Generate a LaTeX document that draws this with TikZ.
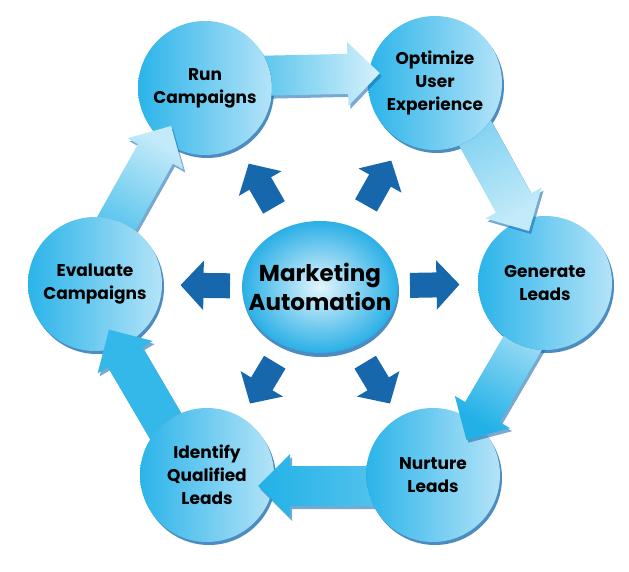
\documentclass[tikz,border=0pt]{standalone}
\usepackage{fontspec}
\newfontfamily\labelfont{Poppins}
\usetikzlibrary{arrows.meta,calc,shadows}

\definecolor{stageleft}{HTML}{2BB4E9}
\definecolor{stageright}{HTML}{B4E3F8}
\definecolor{hubinner}{HTML}{E2F5FD}
\definecolor{hubouter}{HTML}{2AAFE6}
\definecolor{ringdark}{HTML}{22B1E7}
\definecolor{ringlight}{HTML}{D4F0FB}
\definecolor{shadowblue}{HTML}{1F6FB0}
\definecolor{spokeblue}{HTML}{1767AC}

\tikzset{
    stage/.style={circle, minimum size=134pt, inner sep=0pt, align=center,
        left color=stageleft, right color=stageright,
        drop shadow={shadow xshift=2pt, shadow yshift=-3pt, fill=shadowblue, opacity=.8},
        font=\labelfont\bfseries\fontsize{17}{23}\selectfont, text=black},
    hubfill/.style={inner color=hubinner, outer color=hubouter,
        drop shadow={shadow xshift=1pt, shadow yshift=-4pt, fill=shadowblue, opacity=.8}},
    hubtext/.style={align=center, inner sep=0pt,
        font=\labelfont\bfseries\fontsize{23}{29}\selectfont, text=black},
    ringarrow/.style={drop shadow={shadow xshift=2pt, shadow yshift=-3pt, fill=shadowblue, opacity=.6}},
    spoke/.style={draw=spokeblue, line width=25pt, -{Triangle[width=48pt,length=23pt]}}
}

% point at distance #2 along and #3 beside the line from node #1
\newcommand{\ringpt}[3]{($(#1)+(\ringangle:#2pt)+(\ringangle+90:#3pt)$)}

% wide arrow from node #1 to node #2, shaded from #3 to #4
\newcommand{\ringarrow}[4]{%
    \pgfmathanglebetweenpoints{\pgfpointanchor{#1}{center}}{\pgfpointanchor{#2}{center}}%
    \edef\ringangle{\pgfmathresult}%
    \pgfmathsetmacro{\shadeangle}{\ringangle-90}%
    \begin{scope}
        \clip (0,0) -- (0,571) -- (629,571) -- (629,0) -- cycle (#1.center) circle (67pt);
        \shade[ringarrow, bottom color=#3, top color=#4, shading angle=\shadeangle]
            \ringpt{#1}{0}{-9} -- \ringpt{#1}{143}{-9} -- \ringpt{#1}{143}{-21}
            -- \ringpt{#1}{175}{11} -- \ringpt{#1}{143}{43} -- \ringpt{#1}{143}{31}
            -- \ringpt{#1}{0}{31} -- cycle;
    \end{scope}
}

\begin{document}
\begin{tikzpicture}[x=1pt,y=1pt]
    \useasboundingbox (0,0) rectangle (629,571);

    % Stage circles
    \node[stage] (run) at (205,483) {Run\\Campaigns};
    \node[stage] (opt) at (435,488) {Optimize\\User\\Experience};
    \node[stage] (gen) at (545,288) {Generate\\Leads};
    \node[stage] (nur) at (433,96) {Nurture\\Leads};
    \node[stage] (iden) at (207,96) {Identify\\Qualified\\Leads};
    \node[stage] (eval) at (95,287) {Evaluate\\Campaigns};

    % Centre ellipse
    \coordinate (hubc) at (320,284);
    \shade[hubfill] (hubc) ellipse (78pt and 66pt);
    \node[hubtext] (hub) at (hubc) {Marketing\\Automation};

    % Cycle arrows
    \ringarrow{run}{opt}{ringdark}{ringlight}
    \ringarrow{opt}{gen}{ringlight!35!ringdark}{ringlight!90!ringdark}
    \ringarrow{gen}{nur}{ringlight}{ringdark}
    \ringarrow{nur}{iden}{ringlight!40!ringdark}{ringdark}
    \ringarrow{iden}{eval}{ringlight!10!ringdark}{ringlight!10!ringdark}
    \ringarrow{eval}{run}{ringdark}{ringlight!90!ringdark}

    % Spokes
    \foreach \s in {run,opt,gen,nur,iden,eval}
        \draw[spoke] ($(hub)!0.4!(\s)$) -- ($(hub)!0.62!(\s)$);
\end{tikzpicture}
\end{document}
